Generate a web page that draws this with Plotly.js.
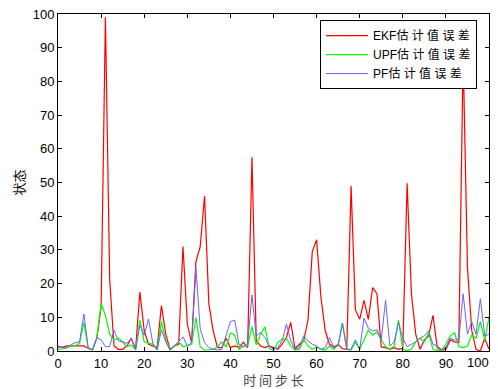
<!DOCTYPE html>
<html>
<head>
<meta charset="utf-8">
<script src="https://cdn.plot.ly/plotly-3.0.1.min.js"></script>
<style>html,body{margin:0;padding:0;background:#fff;}#chart{width:498px;height:389px;}</style>
</head>
<body>
<div id="chart"></div>
<script>
const steps = Array.from({length: 101}, (_, i) => i);
const ekfError = [1.5,1,1.5,1.5,1.5,1.5,1.5,0.8,0.3,3.8,
  13,99,21,1.5,0.5,0.5,1.5,3.8,0.5,17.5,
  6,2,1.5,1,13.5,5,0.5,1.5,2,31,
  8,2.4,26.5,31,46,14,6,1,1,3.8,
  1,1.5,1,2.6,1,57.5,3,1.5,1,1.5,
  1,0.5,2,4,8.5,0.6,2,3,9.2,29.5,
  33,16,6,2,1.2,2,0.7,0.5,49,12.2,
  9.4,15,9.4,18.8,17,1.2,1,0.5,1,0.5,
  0.8,49.8,17,5,0.5,3.3,4.5,10.6,1,0.2,
  0.5,3.3,2.7,2.5,88,25,6,0.5,0,3.8,0.5];
const upfError = [0.5,0.6,1,1.5,1.5,2.3,8.4,1,0.3,3.8,
  14,10.6,5,3.3,3.8,2.7,1.3,1.8,0.5,9.2,
  2.7,2.3,2,0.5,8.7,3.3,0.3,1.5,2.7,1.3,
  1.5,2,10,1.3,0.3,0.3,0.6,1.2,2.7,1.2,
  5.4,4.7,0.5,1.5,1.5,7.2,1.8,5,7.2,0.8,
  0.2,2.5,3.5,3.8,1.5,0.3,0.5,3.5,1.5,0.5,
  1.2,0.5,0.3,1.5,0.5,2,8.3,0.5,0.3,2.7,
  0.5,3.3,6.2,4.7,5.7,3.3,1.3,0.5,1.5,9.2,
  0.5,0.2,0.5,2.7,3.8,2.7,5.4,0.5,0.2,0.2,
  2,4.5,5.4,1.3,1,1.5,4.7,3.8,8.7,3.3,10];
const pfError = [1,1.3,0.8,1.8,2.5,2.7,11,1,0.3,4,
  3.3,1.3,1.3,6.2,3,2.7,2.3,3.8,0.3,7.7,
  4.7,9.5,2.3,0.3,6.3,2.7,0.3,1.5,2.7,4.2,
  1.5,2.5,24.6,6.5,2.5,1,0.5,0.3,0.5,4.5,
  8.7,9.2,2,1.2,2,16.6,4.5,5.5,4,1.5,
  0.5,1,3,8,3,0.5,1,4.5,3,2,
  1.5,0.5,1,4,1,1.5,8.3,0.5,0.5,3.3,
  0.5,9.8,6.8,5.9,6.3,3.3,15,1.5,2.7,8.5,
  3.8,1.3,2,2.7,3.8,4.5,6,2,1.5,0.5,
  1,3.8,3.3,3.3,17,5,8.7,5,15.5,4.5,5];
const seriesNames = ['EKF估 计 值 误 差', 'UPF估 计 值 误 差', 'PF估 计 值 误 差'];
const tickVals = [0,10,20,30,40,50,60,70,80,90,100];
const tickLabels = ['0','10','20','30','40','50','60','70','80','90','100'];

const traces = [
  {x: steps, y: ekfError, name: seriesNames[0], type: 'scatter', mode: 'lines',
   line: {color: '#ff0000', width: 1.2}},
  {x: steps, y: upfError, name: seriesNames[1], type: 'scatter', mode: 'lines',
   line: {color: '#00ff00', width: 1.2}},
  {x: steps, y: pfError, name: seriesNames[2], type: 'scatter', mode: 'lines',
   line: {color: '#6464ff', width: 1}}
];

const tickFont = {family: 'Liberation Sans, Arial, sans-serif', size: 13, color: '#000'};
const axisCommon = {
  range: [0, 100], tickmode: 'array', tickvals: tickVals, ticks: 'inside', ticklen: 4, tickcolor: '#000',
  showline: true, linecolor: '#000', linewidth: 1, mirror: 'ticks',
  showgrid: false, zeroline: false, tickfont: tickFont
};

// the last x label is drawn right-aligned at its tick so it stays inside the picture, as in the reference
const xLabels = tickLabels.slice(0, -1).concat(['']);
const lastIdx = tickVals.length - 1;

const layout = {
  width: 498, height: 389,
  margin: {l: 58, r: 9, t: 14, b: 38},
  paper_bgcolor: '#fff', plot_bgcolor: '#fff',
  font: {family: 'Liberation Sans, "Noto Sans CJK SC", sans-serif', size: 13, color: '#000'},
  xaxis: Object.assign({}, axisCommon, {
    ticktext: xLabels,
    title: {text: '时 间 步 长', standoff: 3,
      font: {family: '"Noto Sans CJK SC", sans-serif', size: 13, color: '#444'}}
  }),
  yaxis: Object.assign({}, axisCommon, {
    ticktext: tickLabels,
    title: {text: '状态', standoff: 5,
      font: {family: '"Noto Sans CJK SC", sans-serif', size: 13, color: '#000'}}
  }),
  annotations: [{
    x: tickVals[lastIdx], xref: 'x', y: 0, yref: 'paper',
    text: tickLabels[lastIdx], showarrow: false,
    xanchor: 'right', yanchor: 'top', xshift: 2, yshift: -2,
    font: tickFont
  }],
  legend: {
    x: 0.608, y: 0.982, xanchor: 'left', yanchor: 'top',
    bgcolor: '#fff', bordercolor: '#000', borderwidth: 1,
    font: {family: 'Liberation Sans, "Noto Sans CJK SC", sans-serif', size: 12, color: '#000'},
    tracegroupgap: 0, itemwidth: 42
  },
  showlegend: true
};

Plotly.newPlot('chart', traces, layout, {displayModeBar: false, staticPlot: true});
</script>
</body>
</html>
